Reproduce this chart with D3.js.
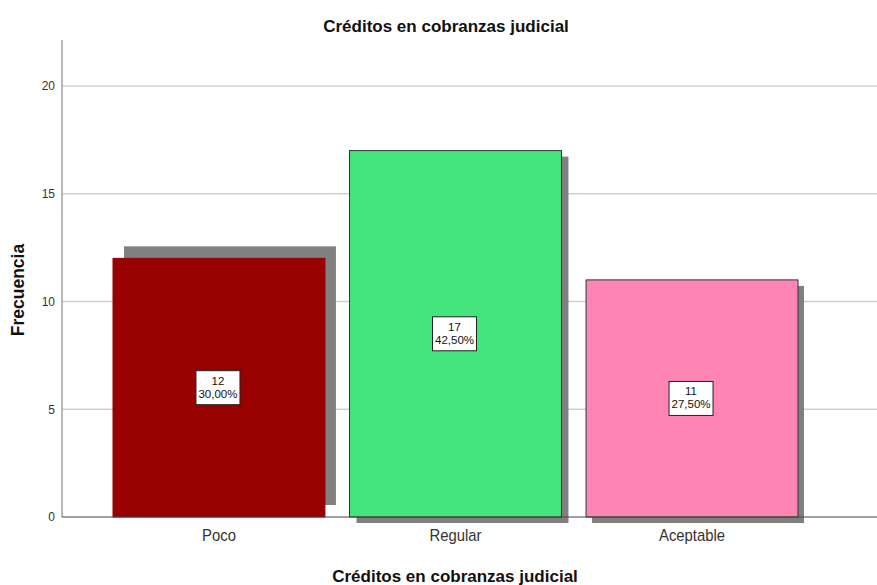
<!DOCTYPE html>
<html>
<head>
<meta charset="utf-8">
<script src="https://cdn.jsdelivr.net/npm/d3@7"></script>
<style>
  html, body { margin: 0; padding: 0; background: #fff; }
  svg { display: block; font-family: "Liberation Sans", Arial, sans-serif; }
</style>
</head>
<body>
<svg id="chart" width="877" height="585"></svg>
<script>
// ---- data ----
const categories = ["Poco", "Regular", "Aceptable"];
const counts = [12, 17, 11];
const percentLabels = ["30,00%", "42,50%", "27,50%"];
const barColors = ["#990000", "#44E57C", "#FF85B4"];
const yTicks = [0, 5, 10, 15, 20];
const titleText = "Créditos en cobranzas judicial";
const xTitle = "Créditos en cobranzas judicial";
const yTitle = "Frecuencia";

// ---- layout ----
const plot = { left: 62, right: 877, top: 40, bottom: 517 };
const svg = d3.select("#chart");

const y = d3.scaleLinear().domain([0, 22.13]).range([plot.bottom, plot.top]);
const x = d3.scaleBand().domain(categories).range([113, 798]).paddingInner(0.104).paddingOuter(0);

// gridlines
svg.append("g").selectAll("line").data(yTicks.filter(d => d > 0)).join("line")
  .attr("x1", plot.left).attr("x2", plot.right)
  .attr("y1", d => y(d)).attr("y2", d => y(d))
  .attr("stroke", "#cfcfcf").attr("stroke-width", 1.5);

// shadow offsets (Poco's shadow sits up-right, others down-right)
const shadowOff = [[11, -12], [7, 6], [6, 6]];

const data = categories.map((c, i) => ({ c, v: counts[i], p: percentLabels[i], col: barColors[i], off: shadowOff[i] }));

// shadows
svg.append("g").selectAll("rect").data(data).join("rect")
  .attr("x", d => x(d.c) + d.off[0])
  .attr("y", d => y(d.v) + d.off[1])
  .attr("width", x.bandwidth())
  .attr("height", d => y(0) - y(d.v))
  .attr("fill", "#808080");

// bars
svg.append("g").selectAll("rect").data(data).join("rect")
  .attr("x", d => x(d.c))
  .attr("y", d => y(d.v))
  .attr("width", x.bandwidth())
  .attr("height", d => y(0) - y(d.v))
  .attr("fill", d => d.col)
  .attr("stroke", (d, i) => i === 0 ? "#990000" : "#333")
  .attr("stroke-width", 1);

// y axis line
svg.append("line")
  .attr("x1", plot.left).attr("x2", plot.left)
  .attr("y1", plot.top).attr("y2", plot.bottom)
  .attr("stroke", "#a0a0a0").attr("stroke-width", 1.5);

// baseline
svg.append("line")
  .attr("x1", plot.left).attr("x2", plot.right)
  .attr("y1", plot.bottom).attr("y2", plot.bottom)
  .attr("stroke", "#444").attr("stroke-width", 1.2);

// y tick labels
const yAxis = d3.axisLeft(y).tickValues(yTicks).tickSize(0).tickPadding(7);
const ya = svg.append("g").attr("transform", `translate(${plot.left},0)`).call(yAxis);
ya.select(".domain").remove();
ya.selectAll("text").attr("font-size", 12).attr("fill", "#333").attr("font-family", "Liberation Sans, Arial, sans-serif");

// x tick labels
const xAxis = d3.axisBottom(x).tickSize(0).tickPadding(13);
const xa = svg.append("g").attr("transform", `translate(0,${plot.bottom})`).call(xAxis);
xa.select(".domain").remove();
xa.selectAll("text").attr("font-size", 16).attr("fill", "#333").attr("font-family", "Liberation Sans, Arial, sans-serif")
  .attr("transform", "scale(0.93,1)");

// data label boxes
const lab = svg.append("g").selectAll("g").data(data).join("g")
  .attr("transform", d => `translate(${x(d.c) + x.bandwidth()/2 - 1},${y(d.v/2)})`);
lab.append("rect")
  .attr("x", -22).attr("y", -17).attr("width", 44).attr("height", 34)
  .attr("fill", "#fff").attr("stroke", "#222").attr("stroke-width", 1);
lab.append("text").attr("text-anchor", "middle").attr("y", -3)
  .attr("font-size", 11.5).attr("fill", "#111").text(d => d.v);
lab.append("text").attr("text-anchor", "middle").attr("y", 10)
  .attr("font-size", 11.5).attr("fill", "#111").text(d => d.p);

// titles
svg.append("text").attr("x", 446).attr("y", 32).attr("text-anchor", "middle")
  .attr("font-size", 17).attr("font-weight", "bold").attr("fill", "#111").text(titleText);
svg.append("text").attr("x", 455).attr("y", 582).attr("text-anchor", "middle")
  .attr("font-size", 17).attr("font-weight", "bold").attr("fill", "#111").text(xTitle);
svg.append("text").attr("transform", "translate(24,290) rotate(-90)").attr("text-anchor", "middle")
  .attr("font-size", 17.5).attr("font-weight", "bold").attr("fill", "#111").text(yTitle);
</script>
</body>
</html>
